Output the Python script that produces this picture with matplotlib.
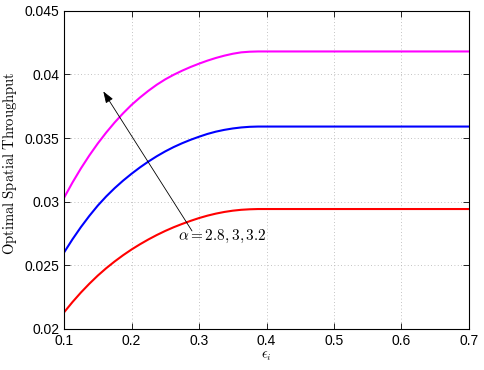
import numpy as np
import matplotlib
matplotlib.use('Agg')
import matplotlib.pyplot as plt

plt.rcParams['font.family'] = ['Liberation Sans', 'DejaVu Sans']
plt.rcParams['mathtext.fontset'] = 'cm'

# values (epsilon_i vs optimal spatial throughput)
eps = [0.1, 0.1125, 0.125, 0.1375, 0.15, 0.1625, 0.175, 0.1875, 0.2, 0.2125, 0.225,
       0.2375, 0.25, 0.2625, 0.275, 0.2875, 0.3, 0.3125, 0.325, 0.3375, 0.35, 0.3625,
       0.375, 0.3875, 0.4, 0.7]
thr_28 = [0.02130, 0.02211, 0.02286, 0.02355, 0.02419, 0.02477, 0.02530, 0.02579, 0.02624,
          0.02665, 0.02703, 0.02738, 0.02770, 0.02799, 0.02825, 0.02849, 0.02871, 0.02890,
          0.02906, 0.02919, 0.02929, 0.02936, 0.02940, 0.02942, 0.02942, 0.02942]
thr_30 = [0.02600, 0.02704, 0.02800, 0.02888, 0.02969, 0.03041, 0.03106, 0.03165, 0.03219,
          0.03269, 0.03315, 0.03357, 0.03395, 0.03429, 0.03459, 0.03486, 0.03510, 0.03532,
          0.03550, 0.03564, 0.03575, 0.03583, 0.03588, 0.03590, 0.03590, 0.03590]
thr_32 = [0.03030, 0.03150, 0.03261, 0.03363, 0.03457, 0.03543, 0.03622, 0.03694, 0.03760,
          0.03818, 0.03871, 0.03919, 0.03961, 0.03997, 0.04029, 0.04058, 0.04084, 0.04108,
          0.04129, 0.04147, 0.04162, 0.04173, 0.04178, 0.04180, 0.04180, 0.04180]

xticks = [0.1, 0.2, 0.3, 0.4, 0.5, 0.6, 0.7]
yticks = [0.02, 0.025, 0.03, 0.035, 0.04, 0.045]

fig = plt.figure(figsize=(4.85, 3.7), dpi=100)
ax = fig.add_axes([0.132, 0.111, 0.835, 0.860])

ax.plot(eps, thr_28, color='red', lw=1.5)
ax.plot(eps, thr_30, color='blue', lw=1.5)
ax.plot(eps, thr_32, color='magenta', lw=1.5)

ax.set_xlim(0.1, 0.7)
ax.set_ylim(0.02, 0.045)
ax.set_xticks(xticks)
ax.set_xticklabels([f'{t:g}' for t in xticks])
ax.set_yticks(yticks)
ax.set_yticklabels([f'{t:g}' for t in yticks])
ax.tick_params(direction='in', top=True, right=True, labelsize=10, length=4, width=0.6)
ax.grid(True, linestyle=(0, (1, 3)), color='#b0b0b0', linewidth=0.6)
for s in ax.spines.values():
    s.set_linewidth(0.8)

ax.set_xlabel(r'$\epsilon_i$', fontsize=10, labelpad=1)
ax.set_ylabel(r'$\mathrm{Optimal\ Spatial\ Throughput}$', fontsize=10.5)
ax.yaxis.set_label_coords(-0.112, 0.52)

# arrow for increasing alpha
ax.annotate('', xy=(0.1582, 0.03866), xytext=(0.2896, 0.0277),
            arrowprops=dict(arrowstyle='-|>,head_length=0.7,head_width=0.25',
                            color='black', lw=0.6, shrinkA=0, shrinkB=0))
ax.text(0.2693, 0.02726, r'$\alpha = 2.8, 3, 3.2$', fontsize=11, va='center', ha='left')

fig.savefig('out.png', dpi=100)
